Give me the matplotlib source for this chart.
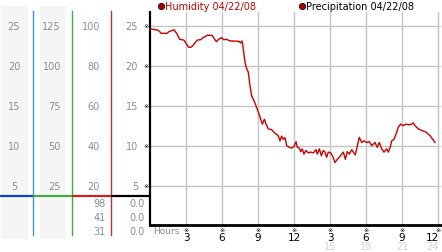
import matplotlib
matplotlib.use("Agg")
import matplotlib.pyplot as plt

# humidity trace, hours since midnight 04/22/08
hours = [0.0, 0.67, 0.94, 1.42, 1.58, 2.0, 2.28, 2.47, 2.83, 3.22, 3.39, 3.56, 3.94,
         4.22, 4.42, 4.78, 5.17, 5.39, 5.53, 5.72, 5.94, 6.17, 6.39, 6.64, 7.39, 7.56,
         7.67, 7.72, 7.92, 8.06, 8.19, 8.33, 8.47, 8.67, 8.83, 9.03, 9.17, 9.36, 9.53,
         9.67, 9.86, 10.14, 10.42, 10.69, 10.83, 10.97, 11.1, 11.25, 11.39, 11.6, 11.81,
         12.0, 12.17, 12.28, 12.44, 12.56, 12.69, 12.83, 13.0, 13.19, 13.39, 13.61, 13.83,
         13.94, 14.11, 14.28, 14.44, 14.58, 14.72, 14.86, 15.06, 15.22, 15.42, 15.61,
         15.78, 15.97, 16.11, 16.28, 16.44, 16.61, 16.81, 16.94, 17.11, 17.28, 17.44,
         17.64, 17.83, 18.06, 18.28, 18.47, 18.75, 18.94, 19.11, 19.31, 19.5, 19.72,
         19.86, 20.0, 20.14, 20.33, 20.56, 20.69, 20.89, 21.11, 21.33, 21.61, 21.81,
         21.94, 22.08, 22.36, 22.64, 23.0, 23.33, 23.56, 23.75]
humidity = [24.6, 24.45, 24.05, 24.05, 24.25, 24.5, 23.9, 23.3, 23.2, 22.3, 22.3, 22.5, 23.2,
            23.25, 23.5, 23.8, 23.8, 23.3, 23.0, 23.3, 23.5, 23.25, 23.3, 23.1, 23.05, 22.85,
            23.1, 22.7, 20.4, 19.6, 19.2, 17.5, 16.25, 15.6, 15.0, 14.2, 13.55, 12.7, 13.3,
            12.7, 12.1, 12.0, 11.55, 11.25, 10.6, 11.2, 10.8, 11.0, 10.0, 9.8, 9.7,
            9.9, 10.5, 9.8, 9.7, 9.25, 9.6, 8.95, 9.4, 9.1, 9.2, 9.1, 9.5,
            8.95, 9.6, 8.75, 9.4, 9.2, 8.55, 9.2, 9.1, 8.7, 7.9, 8.3,
            8.55, 8.95, 9.2, 8.3, 9.25, 8.95, 9.5, 9.2, 8.85, 10.0, 11.05,
            10.4, 10.6, 10.4, 10.5, 10.0, 10.4, 9.8, 10.4, 9.6, 9.2, 9.6,
            9.2, 9.7, 10.6, 10.8, 11.7, 12.3, 12.7, 12.5, 12.7, 12.6, 12.7,
            12.85, 12.5, 12.1, 11.9, 11.7, 11.25, 10.8, 10.4]

# left scale columns
y_ticks = [25, 20, 15, 10, 5]
col1_labels = ["25", "20", "15", "10", "5"]
col2_labels = ["125", "100", "75", "50", "25"]
col3_labels = ["100", "80", "60", "40", "20"]
col4_labels = ["25", "20", "15", "10", "5"]
min_col3 = ["98", "41", "31"]
min_col4 = ["0.0", "0.0", "0.0"]

x_ticks = [3, 6, 9, 12, 15, 18, 21, 24]
x_labels = ["3", "6", "9", "12", "3", "6", "9", "12"]
x_ticks2 = [15, 18, 21, 24]
x_labels2 = ["15", "18", "21", "24"]

legend_labels = ["Humidity 04/22/08", "Precipitation 04/22/08"]

W, H = 442, 253
TOP, BOT, LEFT = 13, 225.5, 150
PX_H, PX_V = 12.0, 8.0          # pixels per hour / per unit
Y0 = BOT + 1.2                  # pixel row of value 0
ylim = ((Y0 - BOT) / PX_V, (Y0 - TOP) / PX_V)

fig = plt.figure(figsize=(W / 100, H / 100), dpi=100)
fig.patch.set_facecolor("white")

# overlay in pixel coords for decoration
pax = fig.add_axes([0, 0, 1, 1])
pax.set_xlim(0, W)
pax.set_ylim(H, 0)
pax.axis("off")

gray_txt = "#8c8c8c"
pax.axvspan(1, 28, ymin=1 - 240 / H, ymax=1 - 7 / H, color="#f5f5f5", lw=0)
pax.axvspan(40, 66, ymin=1 - 240 / H, ymax=1 - 7 / H, color="#f5f5f5", lw=0)
pax.plot([33, 33], [12, 236], color="#3399cc", lw=1)
pax.plot([72, 72], [12, 236], color="#44aa44", lw=1)
pax.plot([111, 111], [12, 236], color="#bb3333", lw=1)
pax.plot([0, 33], [197, 197], color="#1144cc", lw=1.6, solid_capstyle="butt")
pax.plot([33, 72], [197, 197], color="#44aa44", lw=1.6, solid_capstyle="butt")
pax.plot([72, 111], [197, 197], color="#cc2222", lw=1.6, solid_capstyle="butt")
pax.plot([111, 150], [197, 197], color="black", lw=1.6, solid_capstyle="butt")

for i, ypix in enumerate([204, 218, 232]):
    pax.text(106, ypix, min_col3[i], ha="right", va="center", fontsize=7, color=gray_txt)
    pax.text(145, ypix, min_col4[i], ha="right", va="center", fontsize=7, color=gray_txt)

# legend
pax.plot([160.5], [6.5], "o", ms=4.5, mfc="#aa0000", mec="#330000", mew=0.6)
pax.text(165, 6.8, legend_labels[0], ha="left", va="center", fontsize=7, color="#cc0000")
pax.plot([302], [6.5], "o", ms=4.5, mfc="#aa0000", mec="#330000", mew=0.6)
pax.text(306, 6.8, legend_labels[1], ha="left", va="center", fontsize=7, color="black")

pax.text(153, 232, "Hours", ha="left", va="center", fontsize=6.5, color=gray_txt)

# left scale labels share the main y scale
lax = fig.add_axes([0, 1 - BOT / H, LEFT / W, (BOT - TOP) / H])
lax.set_xlim(0, LEFT)
lax.set_ylim(*ylim)
lax.axis("off")
for v, a, b, c, d in zip(y_ticks, col1_labels, col2_labels, col3_labels, col4_labels):
    lax.text(14, v, a, ha="center", va="center", fontsize=7, color=gray_txt)
    lax.text(61, v, b, ha="right", va="center", fontsize=7, color=gray_txt)
    lax.text(100, v, c, ha="right", va="center", fontsize=7, color=gray_txt)
    lax.text(138, v, d, ha="right", va="center", fontsize=7, color=gray_txt)
    lax.text(146, v, "\u203b", ha="center", va="center", fontsize=4.5, color="black")

# main chart
width_px = W - LEFT - 1
ax = fig.add_axes([LEFT / W, 1 - BOT / H, width_px / W, (BOT - TOP) / H])
ax.set_xlim(0, width_px / PX_H)
ax.set_ylim(*ylim)
ax.set_facecolor("white")
for v in y_ticks:
    ax.axhline(v, color="#c4c4c4", lw=1, zorder=1)
for h in x_ticks:
    ax.axvline(h, color="#c4c4c4", lw=1, zorder=1)
ax.plot(hours, humidity, color="#cc0000", lw=1, zorder=3)

for s in ["top", "right"]:
    ax.spines[s].set_visible(False)
ax.spines["left"].set_linewidth(1.6)
ax.spines["bottom"].set_linewidth(2)
ax.spines["left"].set_color("black")
ax.spines["bottom"].set_color("black")
ax.set_xticks([])
ax.set_yticks([])

def fy(ypix):
    return (BOT - ypix) / (BOT - TOP)

tr = ax.get_xaxis_transform()
last = x_ticks[-1]
for h, lab in zip(x_ticks, x_labels):
    ax.text(h, fy(230.5), "\u203b", transform=tr, ha="center", va="center",
            fontsize=4.5, color="black", clip_on=False)
    # last label is pulled inside the right edge, as in the original
    ax.text(h + (0.08 if h == last else 0), fy(238.5), lab, transform=tr,
            ha="right" if h == last else "center", va="center",
            fontsize=7.5, color="black", clip_on=False)
for h, lab in zip(x_ticks2, x_labels2):
    ax.text(h + (0.08 if h == last else 0), fy(247.5), lab, transform=tr,
            ha="right" if h == last else "center", va="center",
            fontsize=7, color="#d4d4d4", clip_on=False)

fig.savefig("out.png", dpi=100, facecolor="white")
